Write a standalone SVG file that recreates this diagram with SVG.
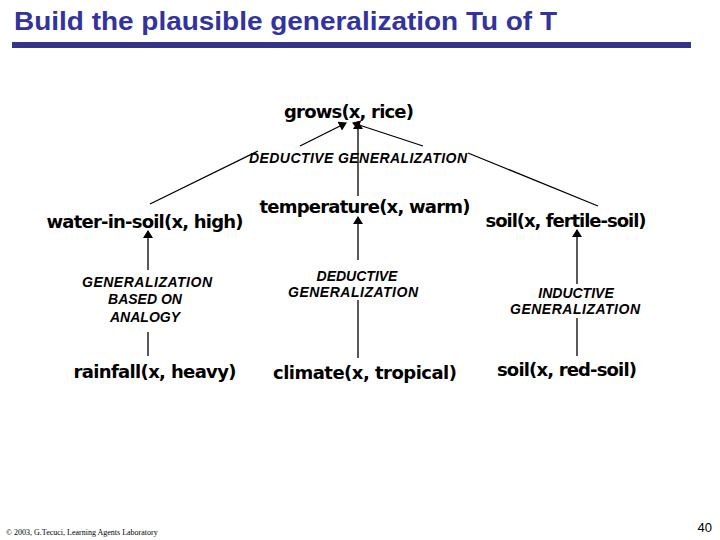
<svg xmlns="http://www.w3.org/2000/svg" width="720" height="540" viewBox="0 0 720 540">
<defs>
<marker id="ah" markerWidth="8" markerHeight="10" refX="7" refY="5" orient="auto" markerUnits="userSpaceOnUse"><path d="M0,0 L8,5 L0,10 z" fill="#000"/></marker>
<style>
.n{font-family:"DejaVu Sans","Liberation Sans",sans-serif;font-weight:bold;font-size:18px;fill:#000;text-anchor:middle}
.l{font-family:"Liberation Sans",sans-serif;font-weight:bold;font-style:italic;font-size:14px;fill:#000;text-anchor:middle}
.c{stroke:#000;stroke-width:1.3;fill:none}
.a{marker-end:url(#ah)}
</style>
</defs>
<rect width="720" height="540" fill="#fff"/>
<text x="14" y="30" font-family="Liberation Sans,sans-serif" font-weight="bold" font-size="26" fill="#3333a0" textLength="543" lengthAdjust="spacingAndGlyphs">Build the plausible generalization Tu of T</text>
<rect x="12" y="42" width="679" height="6" fill="#33338a"/>
<g id="connectors">
<line class="c a" x1="300" y1="146" x2="346" y2="123"/>
<line class="c a" x1="423" y1="146" x2="353" y2="123"/>
<line class="c a" x1="358" y1="196" x2="358" y2="122"/>
<line class="c" x1="150" y1="204" x2="258" y2="151"/>
<line class="c" x1="468" y1="153" x2="598" y2="206"/>
<line class="c a" x1="148" y1="270" x2="148" y2="231"/>
<line class="c" x1="148" y1="332" x2="148" y2="356"/>
<line class="c a" x1="358" y1="260" x2="358" y2="217"/>
<line class="c" x1="358" y1="300" x2="358" y2="358"/>
<line class="c a" x1="577" y1="284" x2="577" y2="230"/>
<line class="c" x1="577" y1="318" x2="577" y2="356"/>
</g>
<g id="grows"><text class="n" x="349" y="118" textLength="130">grows(x, rice)</text></g>
<g id="lbl-top"><text class="l" x="358" y="163" textLength="218">DEDUCTIVE GENERALIZATION</text></g>
<g id="water"><text class="n" x="145" y="228" textLength="197">water-in-soil(x, high)</text></g>
<g id="temp"><text class="n" x="365" y="213" textLength="211">temperature(x, warm)</text></g>
<g id="soil-fertile"><text class="n" x="566" y="227" textLength="161">soil(x, fertile-soil)</text></g>
<g id="lbl-left"><text class="l" x="147" y="287" textLength="130">GENERALIZATION</text><text class="l" x="145" y="304">BASED ON</text><text class="l" x="145" y="322">ANALOGY</text></g>
<g id="lbl-mid"><text class="l" x="357" y="281">DEDUCTIVE</text><text class="l" x="353" y="297" textLength="130">GENERALIZATION</text></g>
<g id="lbl-right"><text class="l" x="576" y="298">INDUCTIVE</text><text class="l" x="575" y="314" textLength="130">GENERALIZATION</text></g>
<g id="rainfall"><text class="n" x="155" y="378" textLength="163">rainfall(x, heavy)</text></g>
<g id="climate"><text class="n" x="365" y="379" textLength="184">climate(x, tropical)</text></g>
<g id="soil-red"><text class="n" x="567" y="376" textLength="140">soil(x, red-soil)</text></g>
<text x="6" y="535" font-family="Liberation Serif,serif" font-size="8" fill="#000">© 2003, G.Tecuci, Learning Agents Laboratory</text>
<text x="712" y="532" font-family="Liberation Sans,sans-serif" font-size="13" fill="#000" text-anchor="end">40</text>
</svg>
